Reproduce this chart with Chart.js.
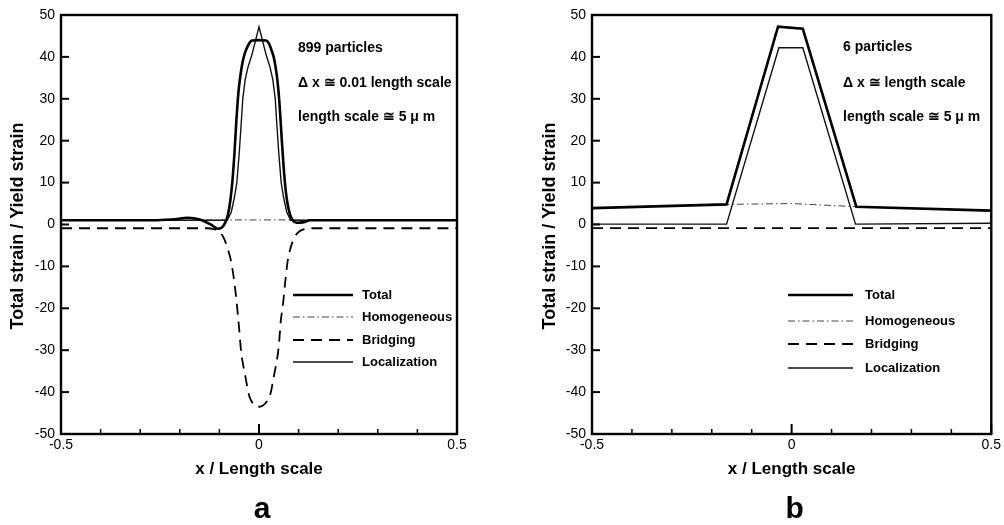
<!DOCTYPE html>
<html><head><meta charset="utf-8">
<script src="https://cdn.jsdelivr.net/npm/chart.js@4.4.1/dist/chart.umd.min.js"></script>
<style>
html,body{margin:0;padding:0;background:#fff;}
#wrap{position:relative;width:1004px;height:525px;overflow:hidden;background:#fff;}
canvas{position:absolute;top:0;}
</style></head><body>
<div id="wrap">
<canvas id="ca" width="502" height="525" style="left:0;width:502px;height:525px"></canvas>
<canvas id="cb" width="502" height="525" style="left:502px;width:502px;height:525px"></canvas>
</div>
<script>
// ---------- shared labels / ticks ----------
const seriesNames = ['Total', 'Homogeneous', 'Bridging', 'Localization'];
const yTicks = [-50, -40, -30, -20, -10, 0, 10, 20, 30, 40, 50];
const xLabelTicks = [-0.5, 0, 0.5];
const xMinorTicks = [-0.4, -0.3, -0.2, -0.1, 0.1, 0.2, 0.3, 0.4];
const xTitle = 'x / Length scale';
const yTitle = 'Total strain / Yield strain';

// ---------- panel a (899 particles) ----------
const aNotes = ['899 particles', 'Δ x ≅ 0.01 length scale', 'length scale ≅ 5 μ m'];
const aTotalX = [-0.5, -0.3, -0.22, -0.18, -0.15, -0.12, -0.105, -0.095, -0.085, -0.078, -0.072, -0.067, -0.062, -0.057, -0.052, -0.047, -0.042, -0.037, -0.032, -0.025, -0.018, 0, 0.018, 0.025, 0.032, 0.037, 0.042, 0.047, 0.052, 0.057, 0.062, 0.067, 0.072, 0.078, 0.085, 0.095, 0.11, 0.13, 0.5];
const aTotalY = [1.0, 1.0, 1.2, 1.6, 1.2, -0.1, -1.0, -0.8, 0.5, 2.5, 6, 10.5, 17, 25, 31.5, 35.5, 38.5, 40.5, 41.8, 43.2, 43.9, 44, 43.9, 43.2, 41.5, 40, 37.5, 34, 28.5, 21, 14, 8.5, 5, 2.5, 1.0, 0.4, 0.5, 1.0, 1.0];
const aHomX = [-0.5, 0, 0.5];
const aHomY = [1.1, 1.1, 1.1];
const aBridX = [-0.5, -0.13, -0.115, -0.1, -0.09, -0.08, -0.07, -0.06, -0.05, -0.045, -0.04, -0.035, -0.03, -0.025, -0.02, -0.01, 0, 0.01, 0.02, 0.03, 0.035, 0.04, 0.045, 0.05, 0.055, 0.06, 0.066, 0.072, 0.08, 0.09, 0.1, 0.115, 0.13, 0.5];
const aBridY = [-0.9, -0.9, -1.1, -1.8, -3, -5.5, -9, -15.5, -25, -30.5, -33.5, -36, -38.5, -40.8, -42, -43.2, -43.5, -43.2, -42.2, -40, -37.5, -35, -32.5, -29, -23, -19.5, -14, -9, -5.5, -3, -1.8, -1.1, -0.9, -0.9];
const aLocX = [-0.5, -0.08, -0.07, -0.062, -0.056, -0.05, -0.045, -0.041, -0.035, -0.028, -0.018, 0, 0.018, 0.028, 0.035, 0.041, 0.045, 0.05, 0.056, 0.062, 0.07, 0.08, 0.5];
const aLocY = [1.0, 1.0, 3, 6.5, 10, 17, 24, 30, 34.5, 37.5, 40.5, 47.2, 40.5, 37.5, 34.5, 30, 24, 17, 10, 6.5, 3, 1.0, 1.0];

// ---------- panel b (6 particles) ----------
const bNotes = ['6 particles', 'Δ x ≅ length scale', 'length scale ≅ 5 μ m'];
const bTotalX = [-0.5, -0.163, -0.034, 0.028, 0.162, 0.5];
const bTotalY = [3.9, 4.8, 47.2, 46.7, 4.25, 3.3];
const bHomX = [-0.5, -0.163, 0, 0.162, 0.5];
const bHomY = [3.9, 4.8, 5.0, 4.25, 3.3];
const bBridX = [-0.5, 0.5];
const bBridY = [-0.85, -0.85];
const bLocX = [-0.5, -0.163, -0.032, 0.028, 0.16, 0.5];
const bLocY = [0.1, 0.1, 42.2, 42.2, 0.1, 0.3];

const FONT = '"Liberation Sans", Arial, Helvetica, sans-serif';
Chart.defaults.font.family = FONT;
Chart.defaults.color = '#000';

function pts(xs, ys) { return xs.map((x, i) => ({x: x, y: ys[i]})); }

const styles = [
  {borderColor: '#000', borderWidth: 2.6, borderDash: []},
  {borderColor: '#444', borderWidth: 1, borderDash: [7, 3, 1.5, 3]},
  {borderColor: '#000', borderWidth: 1.8, borderDash: [11, 7]},
  {borderColor: '#111', borderWidth: 1.4, borderDash: []}
];

function makeDatasets(series, smooth) {
  return series.map((s, i) => Object.assign({
    label: seriesNames[i],
    data: pts(s[0], s[1]),
    pointRadius: 0,
    fill: false,
    tension: 0,
    cubicInterpolationMode: (smooth && (i === 0 || i === 2)) ? 'monotone' : 'default'
  }, styles[i]));
}

function figPlugin(cfg) {
  return {
    id: 'fig',
    afterDraw(chart) {
      const ctx = chart.ctx, a = chart.chartArea, xs = chart.scales.x, ys = chart.scales.y;
      ctx.save();
      ctx.strokeStyle = '#000';
      ctx.setLineDash([]);
      ctx.lineWidth = 2;
      yTicks.forEach(v => {
        const py = ys.getPixelForValue(v);
        ctx.beginPath(); ctx.moveTo(a.left, py); ctx.lineTo(a.left + 8, py); ctx.stroke();
      });
      ctx.lineWidth = 1.5;
      xMinorTicks.forEach(v => {
        const px = xs.getPixelForValue(v);
        ctx.beginPath(); ctx.moveTo(px, a.bottom); ctx.lineTo(px, a.bottom - 5); ctx.stroke();
      });
      ctx.lineWidth = 2;
      xLabelTicks.forEach(v => {
        const px = xs.getPixelForValue(v);
        ctx.beginPath(); ctx.moveTo(px, a.bottom); ctx.lineTo(px, a.bottom - 10); ctx.stroke();
      });
      ctx.lineWidth = 2.4;
      ctx.strokeRect(a.left, a.top, a.right - a.left, a.bottom - a.top);

      ctx.fillStyle = '#000';
      ctx.font = 'bold 17px ' + FONT;
      ctx.textAlign = 'center'; ctx.textBaseline = 'middle';
      ctx.fillText(xTitle, (a.left + a.right) / 2, 469);
      ctx.save();
      ctx.translate(cfg.yTitleX, 226);
      ctx.rotate(-Math.PI / 2);
      ctx.font = 'bold 18px ' + FONT;
      ctx.fillText(yTitle, 0, 0);
      ctx.restore();
      ctx.font = 'bold 30px ' + FONT;
      ctx.textBaseline = 'alphabetic';
      ctx.fillText(cfg.letter, (a.left + a.right) / 2 + 3, 518);
      ctx.font = 'bold 14px ' + FONT;
      ctx.textAlign = 'left'; ctx.textBaseline = 'middle';
      cfg.notes.forEach((t, i) => ctx.fillText(t, cfg.noteX, cfg.noteY[i]));
      ctx.font = 'bold 13px ' + FONT;
      chart.data.datasets.forEach((ds, i) => {
        const y = cfg.legY[i];
        ctx.strokeStyle = ds.borderColor;
        ctx.lineWidth = ds.borderWidth;
        ctx.setLineDash(ds.borderDash || []);
        ctx.beginPath(); ctx.moveTo(cfg.legX1, y); ctx.lineTo(cfg.legX2, y); ctx.stroke();
        ctx.setLineDash([]);
        ctx.fillText(ds.label, cfg.legText, y);
      });
      ctx.restore();
    }
  };
}

function makeChart(id, series, smooth, cfg) {
  return new Chart(document.getElementById(id), {
    type: 'line',
    data: {datasets: makeDatasets(series, smooth)},
    options: {
      responsive: false,
      animation: false,
      devicePixelRatio: 1,
      layout: {padding: {left: 0, right: cfg.padRight, top: 15, bottom: 0}},
      plugins: {legend: {display: false}, tooltip: {enabled: false}},
      scales: {
        x: {
          type: 'linear', min: -0.5, max: 0.5,
          grid: {display: false, drawTicks: false},
          border: {display: false},
          afterBuildTicks: s => { s.ticks = xLabelTicks.map(v => ({value: v})); },
          afterFit: s => { s.height = 91; },
          ticks: {autoSkip: false, maxRotation: 0, padding: 3, color: '#000',
                  font: {size: 14}, callback: v => String(v)}
        },
        y: {
          type: 'linear', min: -50, max: 50,
          grid: {display: false, drawTicks: false},
          border: {display: false},
          afterBuildTicks: s => { s.ticks = yTicks.map(v => ({value: v})); },
          afterFit: s => { s.width = cfg.yWidth; },
          ticks: {autoSkip: false, padding: 6, color: '#000', font: {size: 14},
                  callback: v => String(v)}
        }
      }
    },
    plugins: [figPlugin(cfg)]
  });
}

makeChart('ca', [[aTotalX, aTotalY], [aHomX, aHomY], [aBridX, aBridY], [aLocX, aLocY]], true, {
  padRight: 45, yWidth: 61, yTitleX: 18, letter: 'a',
  notes: aNotes, noteX: 298, noteY: [48, 83, 117],
  legX1: 293, legX2: 353, legText: 362, legY: [295, 317, 340, 362]
});
makeChart('cb', [[bTotalX, bTotalY], [bHomX, bHomY], [bBridX, bBridY], [bLocX, bLocY]], false, {
  padRight: 12, yWidth: 90, yTitleX: 48, letter: 'b',
  notes: bNotes, noteX: 341, noteY: [47, 83, 117],
  legX1: 286, legX2: 351, legText: 363, legY: [295, 321, 344, 368]
});
</script>
</body></html>
